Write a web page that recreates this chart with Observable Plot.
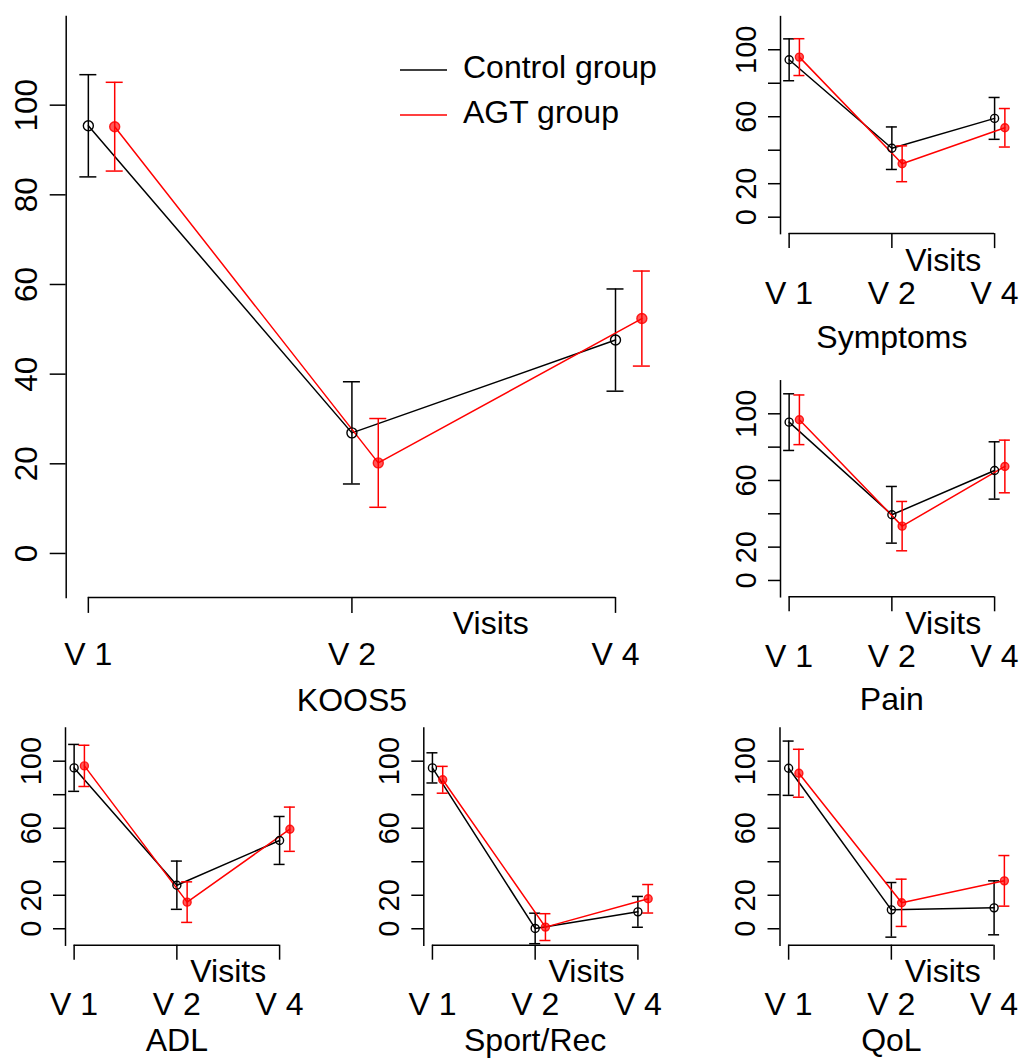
<!DOCTYPE html>
<html><head><meta charset="utf-8">
<script src="https://cdn.jsdelivr.net/npm/d3@7"></script>
<script src="https://cdn.jsdelivr.net/npm/@observablehq/plot@0.6"></script>
<style>
html,body{margin:0;padding:0;background:#fff;}
#chart{position:relative;width:1022px;height:1059px;overflow:hidden;font-family:"Liberation Sans",Arial,Helvetica,sans-serif;}
#chart > svg{position:absolute;}
</style></head><body><div id="chart"></div>
<script>
// ---- data ----
const visits = ["V 1", "V 2", "V 4"];
const groups = ["Control group", "AGT group"];
const groupColors = ["#000000", "#ff0000"];
const yTicks = [0, 20, 40, 60, 80, 100];
const smallYLabels = [0, 20, 60, 100];
const xAxisTitle = "Visits";

const koos5ControlMean = [95.4, 26.9, 47.6];
const koos5ControlErr  = [11.4, 11.4, 11.4];
const koos5AgtMean     = [95.2, 20.2, 52.4];
const koos5AgtErr      = [9.9, 9.9, 10.6];

const symptomsControlMean = [94.0, 41.2, 59.0];
const symptomsControlErr  = [12.5, 12.7, 12.5];
const symptomsAgtMean     = [95.6, 31.9, 53.4];
const symptomsAgtErr      = [11.0, 10.7, 11.5];

const painControlMean = [95.0, 39.4, 66.0];
const painControlErr  = [17.0, 17.0, 17.2];
const painAgtMean     = [96.4, 32.6, 68.4];
const painAgtErr      = [14.9, 14.8, 15.8];

const adlControlMean = [96.0, 26.0, 52.7];
const adlControlErr  = [14.0, 14.4, 14.3];
const adlAgtMean     = [97.2, 15.9, 59.4];
const adlAgtErr      = [12.3, 12.1, 13.2];

const sportControlMean = [96.0, 0.2, 10.1];
const sportControlErr  = [9.0, 9.1, 9.2];
const sportAgtMean     = [88.9, 1.0, 17.9];
const sportAgtErr      = [8.0, 8.0, 8.5];

const qolControlMean = [95.8, 11.3, 12.5];
const qolControlErr  = [16.2, 16.3, 16.1];
const qolAgtMean     = [92.8, 15.5, 28.6];
const qolAgtErr      = [14.3, 14.1, 15.1];

// ---- layout (positions / styles) ----
const yLim = [-5, 115];          // R ylim, extended by 4%
const xLim = [1, 3.1];           // R xlim, extended by 4%
const ext = (a) => { const d = (a[1] - a[0]) * 0.04; return [a[0] - d, a[1] + d]; };
const yDomain = ext(yLim);
const xDomain = ext(xLim);
const dodge = 0.1;

const panels = [
  {title: "KOOS5", c: [koos5ControlMean, koos5ControlErr], a: [koos5AgtMean, koos5AgtErr],
   box: {left: 0, top: 0, width: 700, height: 730}, plot: {l: 65.7, r: 663.5, t: 15.9, b: 596.9}, big: true, titleDy: 103, visitsDx: 7},
  {title: "Symptoms", c: [symptomsControlMean, symptomsControlErr], a: [symptomsAgtMean, symptomsAgtErr],
   box: {left: 700, top: 0, width: 322, height: 360}, plot: {l: 80, r: 313, t: 16.1, b: 233.1}, titleDy: 104, visitsDx: 0},
  {title: "Pain", c: [painControlMean, painControlErr], a: [painAgtMean, painAgtErr],
   box: {left: 700, top: 360, width: 322, height: 360}, plot: {l: 80, r: 313, t: 20.3, b: 236.3}, titleDy: 103, visitsDx: 0},
  {title: "ADL", c: [adlControlMean, adlControlErr], a: [adlAgtMean, adlAgtErr],
   box: {left: 0, top: 720, width: 340, height: 339}, plot: {l: 65, r: 298, t: 7.5, b: 224.7}, titleDy: 96, visitsDx: 0},
  {title: "Sport/Rec", c: [sportControlMean, sportControlErr], a: [sportAgtMean, sportAgtErr],
   box: {left: 340, top: 720, width: 340, height: 339}, plot: {l: 83.3, r: 316.3, t: 7.5, b: 224.7}, titleDy: 96, visitsDx: 0},
  {title: "QoL", c: [qolControlMean, qolControlErr], a: [qolAgtMean, qolAgtErr],
   box: {left: 690, top: 720, width: 332, height: 339}, plot: {l: 89.5, r: 322.5, t: 7.5, b: 224.7}, titleDy: 96, visitsDx: 0}
];

const FONT = '"Liberation Sans", Arial, Helvetica, sans-serif';
const chart = document.getElementById("chart");

for (const p of panels) {
  const rows = [];
  visits.forEach((v, i) => {
    rows.push({group: groups[0], gi: 0, vi: i + 1, visit: v, mean: p.c[0][i], err: p.c[1][i]});
    rows.push({group: groups[1], gi: 1, vi: i + 1, visit: v, mean: p.a[0][i], err: p.a[1][i]});
  });
  const X = (d) => d.vi + d.gi * dodge;
  const lo = (d) => d.mean - d.err;
  const hi = (d) => d.mean + d.err;
  const ctrl = rows.filter(d => d.gi === 0);
  const agt = rows.filter(d => d.gi === 1);
  const big = !!p.big;
  const cap = big ? 8.5 : 5.5;
  const r = big ? 5 : 4;
  const hFont = 32;
  const yFont = big ? 31.5 : 29;
  const yTickSize = big ? 16 : 12;
  const xTickSize = big ? 16 : 15;
  const vLabelOffset = big ? 56 : 58.5;   // centre of V labels below axis line
  const xPad = vLabelOffset - 0.71 * hFont + 0.358 * hFont - xTickSize;
  const sw = 1.5;
  const mid = (visits.length + 1) / 2;
  const visitsX = (visits.length - 1 + visits.length) / 2;

  const marks = [
    Plot.frame({anchor: "left", stroke: "#000", strokeWidth: sw}),
    Plot.ruleY([yDomain[0]], {x1: () => 1, x2: () => visits.length, stroke: "#000", strokeWidth: sw}),
    Plot.axisY({ticks: yTicks, tickSize: yTickSize, tickPadding: 13, tickRotate: -90, label: null,
      tickFormat: (d) => (big || smallYLabels.includes(d)) ? String(d) : "",
      fontSize: yFont, stroke: "#000", strokeWidth: sw}),
    Plot.axisX({ticks: visits.map((v, i) => i + 1), tickFormat: (d) => visits[d - 1], anchor: "bottom",
      tickSize: xTickSize, tickPadding: xPad, label: null, fontSize: hFont, stroke: "#000", strokeWidth: sw}),
    Plot.text([xAxisTitle], {x: () => visitsX, y: () => yDomain[0], dx: p.visitsDx, dy: big ? 26 : 27, text: (d) => d, fontSize: hFont, fill: "#000"}),
    Plot.text([p.title], {x: () => mid, y: () => yDomain[0], dy: p.titleDy, text: (d) => d, fontSize: hFont, fill: "#000"}),
  ];
  for (const [data, col] of [[ctrl, groupColors[0]], [agt, groupColors[1]]]) {
    marks.push(
      Plot.line(data, {x: X, y: "mean", stroke: col, strokeWidth: 1.5}),
      Plot.ruleX(data, {x: X, y1: lo, y2: hi, stroke: col, strokeWidth: 1.5}),
      Plot.ruleY(data, {y: hi, x1: X, x2: X, insetLeft: -cap, insetRight: -cap, stroke: col, strokeWidth: 1.5}),
      Plot.ruleY(data, {y: lo, x1: X, x2: X, insetLeft: -cap, insetRight: -cap, stroke: col, strokeWidth: 1.5})
    );
  }
  marks.push(
    Plot.dot(ctrl, {x: X, y: "mean", r, stroke: groupColors[0], fill: "none", strokeWidth: 1.4}),
    Plot.dot(agt, {x: X, y: "mean", r, stroke: groupColors[1], strokeOpacity: 0.85, fill: groupColors[1], fillOpacity: 0.65, strokeWidth: 1.4})
  );

  const svg = Plot.plot({
    width: p.box.width, height: p.box.height,
    marginLeft: p.plot.l, marginRight: p.box.width - p.plot.r,
    marginTop: p.plot.t, marginBottom: p.box.height - p.plot.b,
    x: {type: "linear", domain: xDomain},
    y: {type: "linear", domain: yDomain},
    style: {fontFamily: FONT, color: "#000", background: "transparent", overflow: "visible"},
    marks
  });
  svg.style.left = p.box.left + "px";
  svg.style.top = p.box.top + "px";
  chart.appendChild(svg);
}

// legend inside the KOOS5 panel
const leg = d3.select(chart).append("svg")
  .attr("width", 300).attr("height", 90)
  .style("left", "390px").style("top", "45px")
  .style("font-family", FONT);
groups.forEach((g, i) => {
  const y = 25 + i * 45;
  leg.append("line").attr("x1", 10).attr("x2", 57).attr("y1", y).attr("y2", y)
    .attr("stroke", groupColors[i]).attr("stroke-width", 1.5);
  leg.append("text").attr("x", 73).attr("y", y + 8).attr("font-size", 32).attr("fill", "#000").text(g);
});
</script>
</body></html>
